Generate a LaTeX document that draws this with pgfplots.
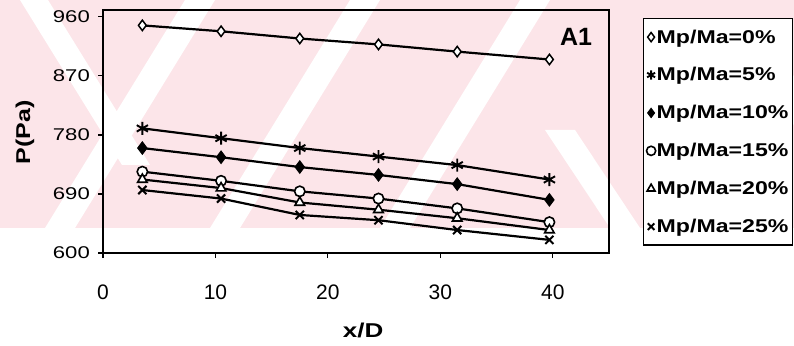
\documentclass[border=0pt]{standalone}
\usepackage{pgfplots}
\pgfplotsset{compat=1.18}
\usepackage{fontspec}
\setmainfont{Liberation Sans}
\newfontfamily\widefont[FakeStretch=1.3]{Liberation Sans}
\newfontfamily\legfont[FakeStretch=1.25]{Liberation Sans}
\newfontfamily\ylabfont[FakeStretch=1.25]{Liberation Sans}
\definecolor{wm}{RGB}{252,229,233}
\begin{document}
\begin{tikzpicture}[x=1pt,y=1pt]
\useasboundingbox (0,0) rectangle (794,345);
% faint watermark band
\fill[wm] (0,117) rectangle (794,345);
\foreach \b in {45,210,380,700}{
  \fill[white] (\b,117) -- (\b+30,117) -- (\b+170,345) -- (\b+140,345) -- cycle;
}
\fill[white] (20,345) -- (48,345) -- (150,180) -- (122,180) -- cycle;
\fill[white] (545,215) -- (575,215) -- (640,117) -- (610,117) -- cycle;
\begin{axis}[
  at={(103pt,92pt)}, anchor=south west,
  scale only axis, width=506pt, height=242.7pt,
  xmin=0, xmax=45, ymin=600, ymax=970,
  xtick={0,10,20,30,40}, ytick={600,690,780,870,960},
  minor tick num=0,
  tick align=outside, tick pos=left,
  major tick length=5pt,
  axis line style={line width=1.6pt},
  every tick/.style={black, line width=1.2pt},
  /pgf/number format/assume math mode=true,
  xticklabel style={font=\fontsize{21}{21}\selectfont, anchor=center, yshift=-34pt},
  yticklabel style={font=\widefont\fontsize{17}{17}\selectfont, anchor=east, inner sep=0pt, xshift=-8pt},
  xlabel={x/D},
  xlabel style={font=\widefont\bfseries\fontsize{20}{20}\selectfont, at={(axis description cs:0.514,-0.318)}, anchor=center},
  ylabel={P(Pa)},
  ylabel style={font=\ylabfont\bfseries\fontsize{20}{20}\selectfont, at={(axis description cs:-0.154,0.496)}, anchor=center},
  legend style={at={(axis description cs:1.067,0.968)}, anchor=north west,
    draw=black, line width=1.2pt, inner xsep=3pt, inner ysep=9pt,
    font=\legfont\bfseries\fontsize{18.5}{18.5}\selectfont, row sep=19pt,
    nodes={inner xsep=1pt}},
  legend cell align=left,
  legend image code/.code={\draw[#1, only marks, mark size=4.6pt] plot coordinates {(6pt,0pt)};},
]
\addplot[black, solid, line width=2.2pt, mark=diamond*, mark size=5.2pt, mark options={fill=white, solid, line width=1.5pt}]
  coordinates {(3.5,947)(10.5,938)(17.5,927)(24.5,918)(31.5,907)(39.7,895)};
\addlegendentry{Mp/Ma=0\%}
\addplot[black, solid, line width=2.2pt, mark=asterisk, mark size=6.5pt, mark options={solid, line width=1.9pt}]
  coordinates {(3.5,790)(10.5,775)(17.5,760)(24.5,747)(31.5,734)(39.7,712)};
\addlegendentry{Mp/Ma=5\%}
\addplot[black, solid, line width=2.2pt, mark=diamond*, mark size=6.2pt, mark options={fill=black, solid, line width=1pt}]
  coordinates {(3.5,760)(10.5,746)(17.5,731)(24.5,719)(31.5,705)(39.7,681)};
\addlegendentry{Mp/Ma=10\%}
\addplot[black, solid, line width=2.2pt, mark=*, mark size=5.2pt, mark options={fill=white, solid, line width=1.6pt}]
  coordinates {(3.5,724)(10.5,710)(17.5,694)(24.5,683)(31.5,668)(39.7,647)};
\addlegendentry{Mp/Ma=15\%}
\addplot[black, solid, line width=2.2pt, mark=triangle*, mark size=5.5pt, mark options={fill=white, solid, line width=1.6pt}]
  coordinates {(3.5,712)(10.5,699)(17.5,677)(24.5,666)(31.5,653)(39.7,635)};
\addlegendentry{Mp/Ma=20\%}
\addplot[black, solid, line width=2.2pt, mark=x, mark size=5.8pt, mark options={solid, line width=2pt}]
  coordinates {(3.5,696)(10.5,683)(17.5,658)(24.5,650)(31.5,635)(39.7,620)};
\addlegendentry{Mp/Ma=25\%}
\node[font=\bfseries\fontsize{25}{25}\selectfont, anchor=center] at (axis description cs:0.935,0.89) {A1};
\end{axis}
\end{tikzpicture}
\end{document}
